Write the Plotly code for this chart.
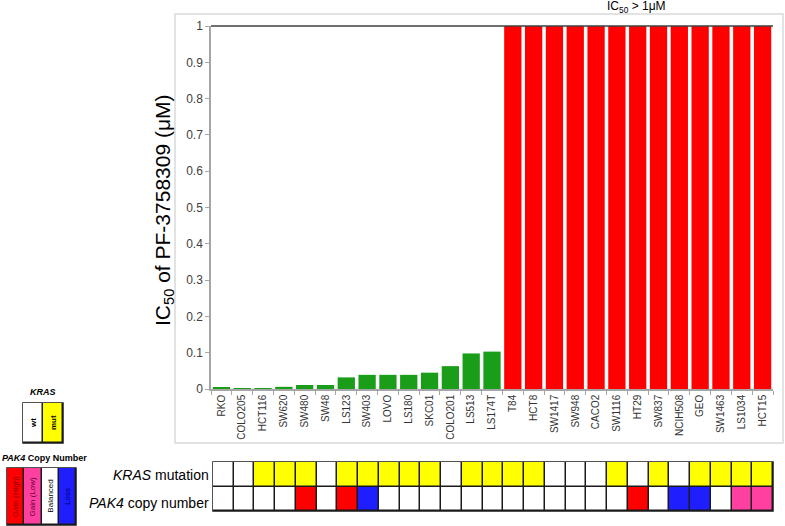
import plotly.graph_objects as go

W, H = 785, 526

# ---------------- data ----------------
cell_lines = ["RKO", "COLO205", "HCT116", "SW620", "SW480", "SW48", "LS123", "SW403",
              "LOVO", "LS180", "SKC01", "COLO201", "LS513", "LS174T", "T84", "HCT8",
              "SW1417", "SW948", "CACO2", "SW1116", "HT29", "SW837", "NCIH508", "GEO",
              "SW1463", "LS1034", "HCT15"]
# IC50 (uM); lines with IC50 > 1 uM are shown capped at 1
ic50 = [0.003, 0.002, 0.002, 0.006, 0.011, 0.011, 0.032, 0.039, 0.039, 0.039, 0.045,
        0.063, 0.098, 0.103, 1, 1, 1, 1, 1, 1, 1, 1, 1, 1, 1, 1, 1]
kras_status = ["wt", "wt", "mut", "mut", "mut", "wt", "mut", "mut", "mut", "mut", "mut",
               "wt", "mut", "mut", "mut", "mut", "wt", "wt", "wt", "mut", "wt", "mut",
               "wt", "mut", "mut", "mut", "mut"]
pak4_cn = ["Balanced", "Balanced", "Balanced", "Balanced", "Gain (High)", "Balanced",
           "Gain (High)", "Loss", "Balanced", "Balanced", "Balanced", "Balanced", "Balanced",
           "Balanced", "Balanced", "Balanced", "Balanced", "Balanced", "Balanced", "Balanced",
           "Gain (High)", "Balanced", "Loss", "Loss", "Balanced", "Gain (Low)", "Gain (Low)"]
kras_legend = ["wt", "mut"]
pak4_legend = ["Gain (High)", "Gain (Low)", "Balanced", "Loss"]
y_ticks = [0, 0.1, 0.2, 0.3, 0.4, 0.5, 0.6, 0.7, 0.8, 0.9, 1]

# ---------------- styles ----------------
FONT = "Liberation Sans, Arial, sans-serif"
GREEN, RED = "#1a9e1a", "#ff0000"
code = {"wt": 0, "Balanced": 0, "mut": 1, "Gain (High)": 2, "Gain (Low)": 3, "Loss": 4}
cscale = [[0, "#ffffff"], [0.2, "#ffffff"], [0.2, "#ffff00"], [0.4, "#ffff00"],
          [0.4, "#ff0000"], [0.6, "#ff0000"], [0.6, "#ff40a0"], [0.8, "#ff40a0"],
          [0.8, "#1e1eff"], [1, "#1e1eff"]]


def px_x(p):
    return p / W


def px_y(p):
    return 1 - p / H


fig = go.Figure()

bar_colors = [RED if v >= 1 else GREEN for v in ic50]
fig.add_trace(go.Bar(x=cell_lines, y=ic50, marker=dict(color=bar_colors, line=dict(width=0)),
                     xaxis="x", yaxis="y", showlegend=False))

fig.add_trace(go.Heatmap(
    x=cell_lines, y=["PAK4", "KRAS"],
    z=[[code[v] for v in pak4_cn], [code[v] for v in kras_status]],
    colorscale=cscale, zmin=-0.5, zmax=4.5, showscale=False, xgap=1.5, ygap=1.5,
    xaxis="x2", yaxis="y2", hoverinfo="skip"))

fig.add_trace(go.Heatmap(
    x=kras_legend, y=["k"], z=[[code[v] for v in kras_legend]],
    colorscale=cscale, zmin=-0.5, zmax=4.5, showscale=False, xgap=1.5, ygap=1.5,
    xaxis="x3", yaxis="y3", hoverinfo="skip"))

fig.add_trace(go.Heatmap(
    x=pak4_legend, y=["p"], z=[[code[v] for v in pak4_legend]],
    colorscale=cscale, zmin=-0.5, zmax=4.5, showscale=False, xgap=1.5, ygap=1.5,
    xaxis="x4", yaxis="y4", hoverinfo="skip"))

hidden = dict(showticklabels=False, showgrid=False, zeroline=False, showline=False, ticks="",
              automargin=False)

fig.update_layout(
    template="none",
    width=W, height=H, margin=dict(l=0, r=0, t=0, b=0, pad=0, autoexpand=False),
    paper_bgcolor="white", plot_bgcolor="white",
    font=dict(family=FONT, color="#000000"),
    bargap=0.17,
    xaxis=dict(domain=[px_x(211), px_x(773)], type="category", tickangle=-90,
               tickfont=dict(size=10, color="#333333"), ticks="outside", tickson="boundaries",
               ticklen=4, tickcolor="#a6a6a6", showline=True, linecolor="#a6a6a6",
               linewidth=1.5, showgrid=False, anchor="y", automargin=False),
    yaxis=dict(domain=[px_y(389), px_y(26)], range=[0, 1], tickvals=y_ticks,
               ticktext=[f"{v:g}" for v in y_ticks], tickfont=dict(size=12, color="#404040"),
               ticks="outside", ticklen=4, tickcolor="#a6a6a6", showline=True,
               linecolor="#a6a6a6", linewidth=1.5, showgrid=False, zeroline=False,
               anchor="x", automargin=False),
    xaxis2=dict(domain=[px_x(213), px_x(773)], type="category", anchor="y2", **hidden),
    yaxis2=dict(domain=[px_y(511), px_y(462)], type="category", anchor="x2", **hidden),
    xaxis3=dict(domain=[px_x(23), px_x(63)], type="category", anchor="y3", **hidden),
    yaxis3=dict(domain=[px_y(443), px_y(403)], type="category", anchor="x3", **hidden),
    xaxis4=dict(domain=[px_x(7), px_x(76)], type="category", anchor="y4", **hidden),
    yaxis4=dict(domain=[px_y(525), px_y(468)], type="category", anchor="x4", **hidden),
)

shapes = [
    # outer light frame
    dict(type="rect", xref="paper", yref="paper", x0=px_x(175), x1=px_x(783),
         y0=px_y(443), y1=px_y(14), line=dict(color="#d9d9d9", width=1.5)),
    # top line of plot area
    dict(type="line", xref="x domain", yref="y domain", x0=0, x1=1, y0=1, y1=1,
         line=dict(color="#404040", width=1.5)),
]
for ax in ["2", "3", "4"]:
    shapes.append(dict(type="rect", xref=f"x{ax} domain", yref=f"y{ax} domain",
                       x0=0, x1=1, y0=0, y1=1, fillcolor="#1a1a1a",
                       line=dict(color="#1a1a1a", width=1.5), layer="below"))
fig.update_layout(shapes=shapes)

ann = [
    dict(text="IC<sub>50</sub> of PF-3758309 (μM)", x=px_x(164), y=px_y(210), xref="paper",
         yref="paper", textangle=-90, showarrow=False, font=dict(size=21),
         xanchor="center", yanchor="middle"),
    dict(text="IC<sub>50</sub> > 1μM", x=px_x(636), y=px_y(7), xref="paper", yref="paper",
         showarrow=False, font=dict(size=12), xanchor="center", yanchor="middle"),
    dict(text="<i>KRAS</i> mutation", x=px_x(211), y=px_y(475), xref="paper", yref="paper",
         showarrow=False, font=dict(size=14), xanchor="right", yanchor="middle"),
    dict(text="<i>PAK4</i> copy number", x=px_x(211), y=px_y(503), xref="paper",
         yref="paper", showarrow=False, font=dict(size=14), xanchor="right",
         yanchor="middle"),
    dict(text="<b><i>KRAS</i></b>", x=px_x(43), y=px_y(392), xref="paper", yref="paper",
         showarrow=False, font=dict(size=9), xanchor="center", yanchor="middle"),
    dict(text="<b><i>PAK4</i> Copy Number</b>", x=0, y=px_y(458), xref="paper",
         yref="paper", showarrow=False, font=dict(size=9), xanchor="left",
         yanchor="middle"),
]
for lab in kras_legend:
    ann.append(dict(text=f"<b>{lab}</b>", x=lab, y="k", xref="x3", yref="y3",
                    textangle=-90, showarrow=False, font=dict(size=8)))
leg_text_col = {"Gain (High)": "#8b0000", "Gain (Low)": "#5a0030", "Balanced": "#000000",
                "Loss": "#000070"}
for lab in pak4_legend:
    ann.append(dict(text=lab, x=lab, y="p", xref="x4", yref="y4",
                    textangle=-90, showarrow=False,
                    font=dict(size=8, color=leg_text_col[lab])))
fig.update_layout(annotations=ann)

fig.write_html("out.html", config={"displayModeBar": False},
               post_script="document.body.style.margin='0';document.body.style.padding='0';")
